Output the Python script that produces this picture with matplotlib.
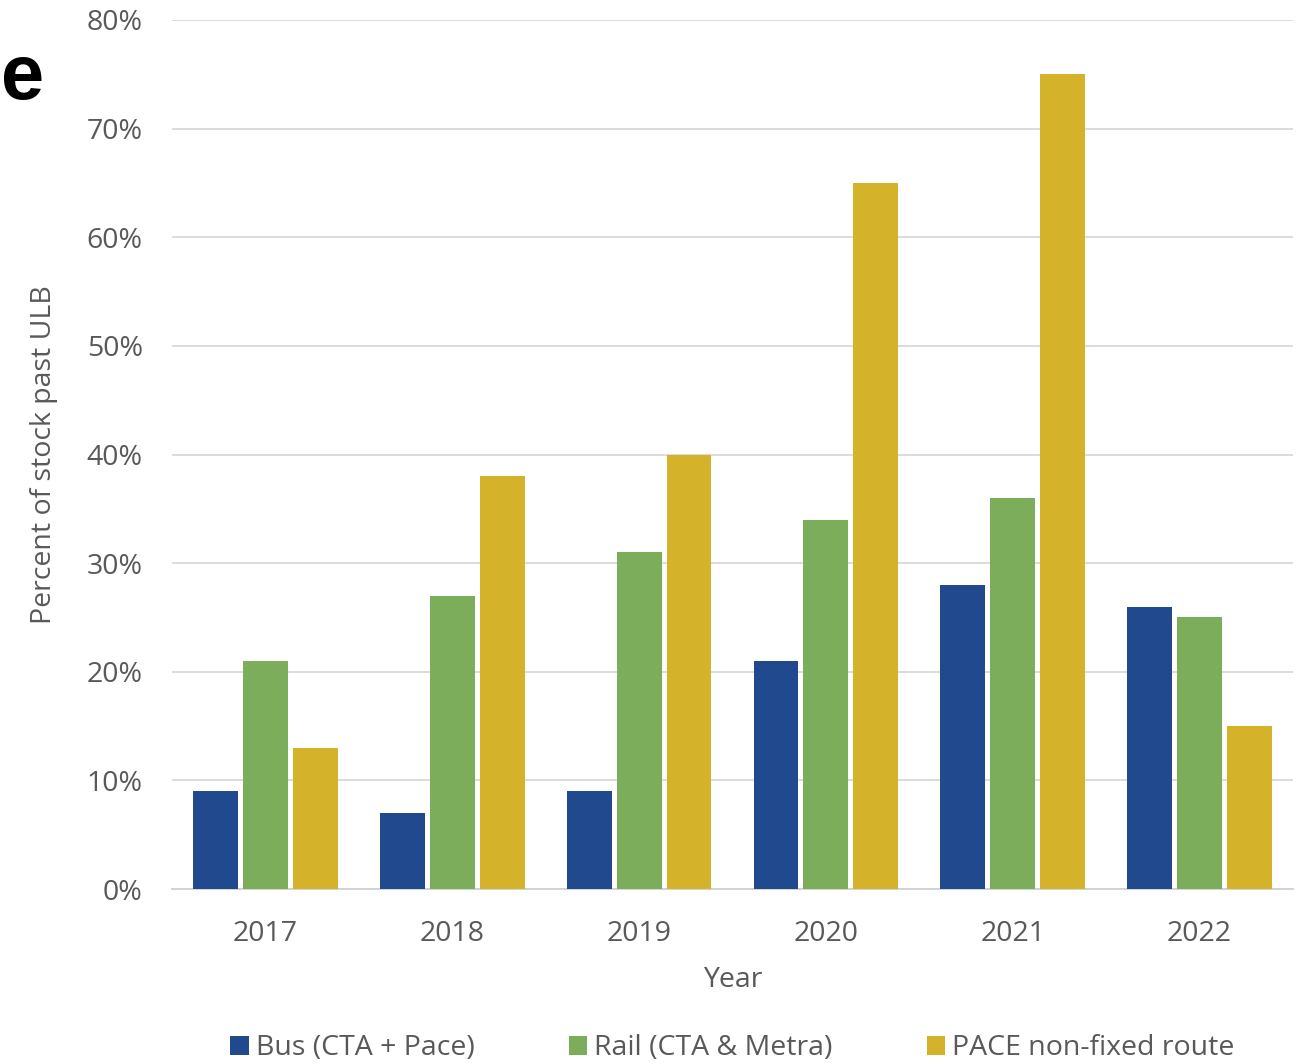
import matplotlib.pyplot as plt
import numpy as np

plt.rcParams['font.family'] = ['Open Sans', 'DejaVu Sans']

years = ['2017', '2018', '2019', '2020', '2021', '2022']
bus = [9, 7, 9, 21, 28, 26]
rail = [21, 27, 31, 34, 36, 25]
pace = [13, 38, 40, 65, 75, 15]
series_names = ['Bus (CTA + Pace)', 'Rail (CTA & Metra)', 'PACE non-fixed route']
colors = ['#204A8D', '#7CAD5B', '#D4B32B']

fig = plt.figure(figsize=(13.07, 10.64), dpi=100)
ax = fig.add_axes([172 / 1307, 1 - 889 / 1064, (1293 - 172) / 1307, (889 - 20) / 1064])

x = np.arange(len(years))
w = 0.24
step = 0.267
for i, (vals, name, c) in enumerate(zip([bus, rail, pace], series_names, colors)):
    ax.bar(x + (i - 1) * step, vals, width=w, color=c, label=name, zorder=3)

ax.set_xlim(-0.5, 5.5)
ax.set_ylim(0, 80)
ax.set_yticks(range(0, 81, 10))
ax.set_yticklabels([f'{v}%' for v in range(0, 81, 10)])
ax.set_xticks(x)
ax.set_xticklabels(years)
ax.grid(axis='y', color='#d9d9d9', linewidth=1.3, zorder=0)
for s in ['top', 'right', 'left']:
    ax.spines[s].set_visible(False)
ax.spines['bottom'].set_color('#d0d0d0')
ax.spines['bottom'].set_linewidth(1.3)
ax.tick_params(axis='both', length=0, labelsize=20.5, colors='#595959')
ax.tick_params(axis='x', pad=22)
ax.tick_params(axis='y', pad=21)

ax.set_xlabel('Year', fontsize=20.5, color='#595959', labelpad=13)
ax.set_ylabel('Percent of stock past ULB', fontsize=20.5, color='#595959', labelpad=21)

ax.legend(loc='center', bbox_to_anchor=(0.5, -0.183), ncol=3, frameon=False,
          fontsize=20.5, labelcolor='#595959', handlelength=0.65, handleheight=0.65,
          handletextpad=0.25, columnspacing=3.3)

fig.text(0.001, 1 - 78 / 1064, 'e', fontsize=56, fontweight='bold', color='black',
         va='center', ha='left', family='Liberation Sans')

fig.savefig('out.png', dpi=100)
